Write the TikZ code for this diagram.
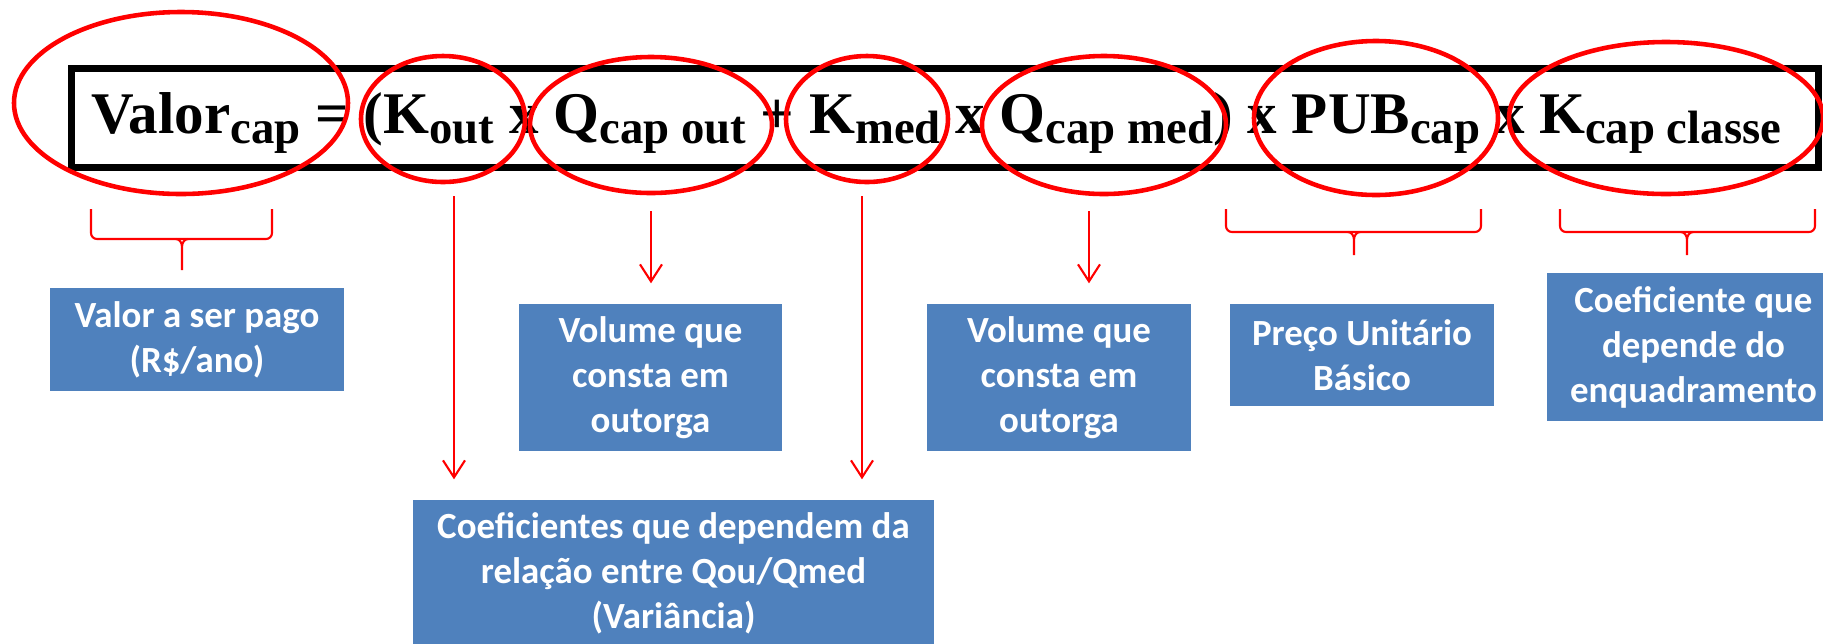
\documentclass[tikz,border=0pt]{standalone}
\usepackage{fontspec}
\usepackage{tikz}
\usepackage{xcolor}
\usetikzlibrary{shapes.geometric,arrows.meta}
\newfontfamily\eqfont{Liberation Serif}
\newfontfamily\boxfont{Carlito}
\definecolor{boxblue}{RGB}{79,129,189}
\newcommand{\sbs}[1]{\raisebox{-0.1cm}{\fontsize{13.3}{15}\selectfont #1}}

\begin{document}
\begin{tikzpicture}[
  ring/.style={ellipse,draw=red,line width=1.3pt,inner sep=0pt},
  infobox/.style={fill=boxblue,text=white,align=center,inner sep=0pt,
    font=\boxfont\bfseries\fontsize{10.5}{12.8}\selectfont},
  arr/.style={red,line width=0.6pt,-{Straight Barb[length=1.7mm,width=2.2mm]},shorten >=2mm},
  brc/.style={red,line width=0.6pt}
]
\useasboundingbox (0,0) rectangle (18.23,-6.43);
\clip (0,0) rectangle (18.23,-6.43);

\node[draw,line width=2.1pt,inner sep=0pt,minimum width=17.47cm,minimum height=0.985cm] (frame) at (9.45,-1.18) {};
\node[anchor=base west,inner sep=0pt,font=\eqfont\bfseries\fontsize{16.8}{20}\selectfont] (eq) at (0.91,-1.33)
  {Valor\sbs{cap} = (K\sbs{out} x Q\sbs{cap out} + K\sbs{med} x Q\sbs{cap med}) x PUB\sbs{cap} x K\sbs{cap classe}};

\node[ring,minimum width=3.34cm,minimum height=1.82cm] (valor) at (1.81,-1.03) {};
\node[ring,minimum width=1.64cm,minimum height=1.26cm] (kout) at (4.43,-1.19) {};
\node[ring,minimum width=2.42cm,minimum height=1.36cm] (qout) at (6.51,-1.25) {};
\node[ring,minimum width=1.62cm,minimum height=1.26cm] (kmed) at (8.67,-1.19) {};
\node[ring,minimum width=2.44cm,minimum height=1.38cm] (qmed) at (11.04,-1.25) {};
\node[ring,minimum width=2.44cm,minimum height=1.54cm] (pub) at (13.76,-1.18) {};
\node[ring,minimum width=3.14cm,minimum height=1.52cm] (kcl) at (16.66,-1.18) {};

\node[infobox,minimum width=2.94cm,minimum height=1.03cm] (valbox) at (1.97,-3.395) {Valor a ser pago\\(R\$/ano)};
\node[infobox,minimum width=2.63cm,minimum height=1.47cm] (vol1) at (6.505,-3.775) {Volume que\\consta em\\outorga};
\node[infobox,minimum width=5.21cm,minimum height=1.47cm] (coef) at (6.735,-5.735) {Coeficientes que dependem da\\relação entre Qou/Qmed\\(Variância)};
\node[infobox,minimum width=2.64cm,minimum height=1.47cm] (vol2) at (10.59,-3.775) {Volume que\\consta em\\outorga};
\node[infobox,minimum width=2.64cm,minimum height=1.02cm] (preco) at (13.62,-3.55) {Preço Unitário\\Básico};
\node[infobox,minimum width=2.93cm,minimum height=1.48cm] (coefk) at (16.935,-3.47) {Coeficiente que\\depende do\\enquadramento};

\draw[arr,shorten <=1.2mm] ([xshift=1.1mm]kout.south) -- ([xshift=1.1mm]kout.south |- coef.north);
\draw[arr,shorten <=1.2mm] ([xshift=-0.5mm]kmed.south) -- ([xshift=-0.5mm]kmed.south |- coef.north);
\draw[arr,shorten <=1.6mm] (qout.south) -- (qout.south |- vol1.north);
\draw[arr,shorten <=1.5mm] ([xshift=-1.5mm]qmed.south) -- ([xshift=-1.5mm]qmed.south |- vol2.north);

\draw[brc,rounded corners=0.6mm] (0.91,-2.09) -- (0.91,-2.39) -- (2.72,-2.39) -- (2.72,-2.09);
\draw[brc] (1.76,-2.39) to[out=0,in=90] (1.82,-2.47) to[out=90,in=180] (1.88,-2.39) (1.82,-2.47) -- (1.82,-2.70);
\draw[brc,rounded corners=0.6mm] (12.26,-2.09) -- (12.26,-2.32) -- (14.81,-2.32) -- (14.81,-2.09);
\draw[brc] (13.48,-2.32) to[out=0,in=90] (13.54,-2.40) to[out=90,in=180] (13.60,-2.32) (13.54,-2.40) -- (13.54,-2.55);
\draw[brc,rounded corners=0.6mm] (15.60,-2.09) -- (15.60,-2.32) -- (18.15,-2.32) -- (18.15,-2.09);
\draw[brc] (16.81,-2.32) to[out=0,in=90] (16.87,-2.40) to[out=90,in=180] (16.93,-2.32) (16.87,-2.40) -- (16.87,-2.55);

\end{tikzpicture}
\end{document}
